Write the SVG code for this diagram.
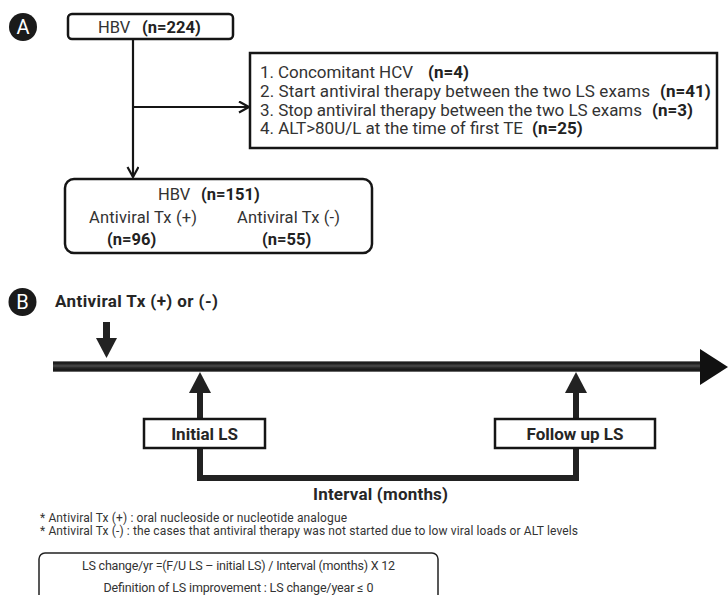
<svg xmlns="http://www.w3.org/2000/svg" width="728" height="595" viewBox="0 0 728 595">
<style>
text{font-family:Roboto,"Liberation Sans",Arial,sans-serif;fill:#333}
.b{font-weight:bold;fill:#222}
.a{font-size:16.5px}
.e{font-size:17px}
.lab{font-size:20px;fill:#fff;text-anchor:middle}
.box{fill:#fff;stroke:#151515;stroke-width:2.5}
.thin{fill:none;stroke:#151515;stroke-width:2.2}
.fn{font-size:12px;fill:#333}
.tl{font-size:17px;font-weight:bold;fill:#262626}
.dk{fill:#222}
</style>
<defs>
<marker id="chev" markerWidth="14" markerHeight="14" refX="11" refY="6" orient="auto" markerUnits="userSpaceOnUse">
<path d="M1,0.5 L11,6 L1,11.5" fill="none" stroke="#151515" stroke-width="2.2"/>
</marker>
<linearGradient id="bar" x1="0" y1="0" x2="0" y2="1">
<stop offset="0" stop-color="#9a9a9a"/>
<stop offset="0.15" stop-color="#111"/>
<stop offset="0.45" stop-color="#4a4a4a"/>
<stop offset="0.6" stop-color="#2a2a2a"/>
<stop offset="0.85" stop-color="#111"/>
<stop offset="1" stop-color="#8a8a8a"/>
</linearGradient>
</defs>

<g id="label-A">
<circle cx="23" cy="27" r="14" fill="#1a1a1a"/>
<text class="lab" x="23" y="34">A</text>
</g>

<g id="connectors">
<line class="thin" x1="133" y1="39" x2="133" y2="177" marker-end="url(#chev)"/>
<line class="thin" x1="133" y1="107" x2="249" y2="107" marker-end="url(#chev)"/>
</g>

<g id="node-hbv224">
<rect class="box" x="68" y="14" width="165" height="25" rx="4"/>
<text class="a" x="98" y="33">HBV</text>
<text class="a b" x="142" y="33">(n=224)</text>
</g>

<g id="node-exclusion">
<rect class="box" x="250" y="53" width="467" height="95"/>
<text class="e" x="260" y="78" textLength="153">1. Concomitant HCV</text>
<text class="e b" x="428" y="78">(n=4)</text>
<text class="e" x="260" y="97" textLength="390">2. Start antiviral therapy between the two LS exams</text>
<text class="e b" x="660" y="97">(n=41)</text>
<text class="e" x="260" y="115.5" textLength="382">3. Stop antiviral therapy between the two LS exams</text>
<text class="e b" x="652" y="115.5">(n=3)</text>
<text class="e" x="260" y="134" textLength="263">4. ALT&gt;80U/L at the time of first TE</text>
<text class="e b" x="532" y="134">(n=25)</text>
</g>

<g id="node-hbv151">
<rect class="box" x="65" y="179" width="307" height="74" rx="9"/>
<text class="a" x="158" y="200">HBV</text>
<text class="a b" x="201" y="200">(n=151)</text>
<text class="a" x="89" y="223" textLength="108">Antiviral Tx (+)</text>
<text class="a" x="237" y="223" textLength="103">Antiviral Tx (-)</text>
<text class="a b" x="107" y="245">(n=96)</text>
<text class="a b" x="262" y="245">(n=55)</text>
</g>

<g id="label-B">
<circle cx="22.5" cy="302" r="14" fill="#1a1a1a"/>
<text class="lab" x="22.5" y="309">B</text>
</g>

<g id="start-label">
<text class="tl" x="55" y="307" textLength="163">Antiviral Tx (+) or (-)</text>
</g>

<g id="timeline">
<rect x="53" y="361" width="650" height="11" fill="url(#bar)"/>
<polygon points="700,349 728,367 700,385" fill="#111"/>
</g>

<g id="arrows-B">
<rect class="dk" x="103" y="322" width="7" height="17"/>
<polygon class="dk" points="96,338 117,338 106.5,358"/>
<rect class="dk" x="197" y="392" width="6" height="27"/>
<polygon class="dk" points="189,393 211,393 200,372"/>
<rect class="dk" x="573" y="392" width="6" height="27"/>
<polygon class="dk" points="565,393 587,393 576,372"/>
<polyline points="200,448 200,478 576,478 576,448" fill="none" stroke="#222" stroke-width="6"/>
</g>

<g id="node-initial">
<rect class="box" x="144" y="419" width="121" height="29"/>
<text class="tl" x="204.5" y="440" text-anchor="middle">Initial LS</text>
</g>

<g id="node-followup">
<rect class="box" x="495" y="419" width="160" height="29"/>
<text class="tl" x="575" y="440" text-anchor="middle">Follow up LS</text>
</g>

<g id="interval">
<text class="tl" x="380.5" y="500" text-anchor="middle" textLength="135">Interval (months)</text>
</g>

<g id="footnotes">
<text class="fn" x="40" y="522" textLength="307">* Antiviral Tx (+) : oral nucleoside or nucleotide analogue</text>
<text class="fn" x="40" y="535" textLength="538">* Antiviral Tx (-) : the cases that antiviral therapy was not started due to low viral loads or ALT levels</text>
</g>

<g id="formula-box">
<rect x="39" y="553" width="399" height="60" rx="6" fill="#fff" stroke="#222" stroke-width="1.5"/>
<text class="fn" x="238.5" y="570" text-anchor="middle" textLength="313" style="font-size:12.5px">LS change/yr =(F/U LS – initial LS) / Interval (months) X 12</text>
<text class="fn" x="238.5" y="592" text-anchor="middle" textLength="270" style="font-size:12.5px">Definition of LS improvement : LS change/year ≤ 0</text>
</g>
</svg>
